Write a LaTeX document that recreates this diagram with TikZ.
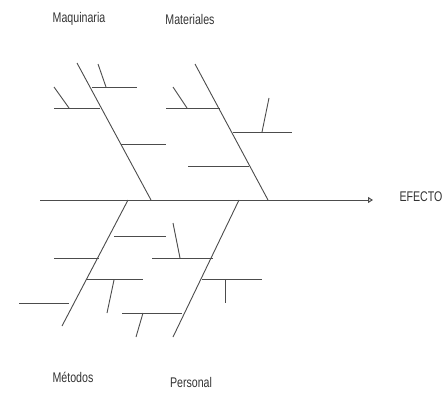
\documentclass[tikz,border=0pt]{standalone}
\usepackage{fontspec}
\setmainfont{Liberation Sans}
\newfontfamily\lblfont[FakeStretch=0.76]{Liberation Sans}
\usetikzlibrary{arrows.meta}
\tikzset{
  bone/.style={draw=black!70, line width=0.9pt},
  spine/.style={draw=black!70, line width=1pt, -{Triangle[open,length=5pt,width=6pt]}},
  lbl/.style={font=\lblfont\fontsize{14}{16}\selectfont, text=black!80, inner sep=0pt}
}
\begin{document}
\begin{tikzpicture}[x=1pt,y=-1pt]
\useasboundingbox (0,0) rectangle (446,393);
% labels
\node[lbl] (maq) at (79,19) {Maquinaria};
\node[lbl] (mat) at (190,19) {Materiales};
\node[lbl] (met) at (73,377) {Métodos};
\node[lbl] (per) at (191,382) {Personal};
\node[lbl] (efe) at (421,197) {EFECTO};
% spine
\coordinate (s0) at (40,200);
\coordinate (s1) at (373,200);
\draw[spine] (s0) -- (s1);
% main bones
\coordinate (ma0) at (77,63);   \coordinate (ma1) at (151,200);
\coordinate (mt0) at (195,64);  \coordinate (mt1) at (268,200);
\coordinate (me0) at (128,200); \coordinate (me1) at (62,326);
\coordinate (pe0) at (239,200); \coordinate (pe1) at (173,337);
\draw[bone] (ma0) -- (ma1);
\draw[bone] (mt0) -- (mt1);
\draw[bone] (me0) -- (me1);
\draw[bone] (pe0) -- (pe1);
% Maquinaria sub-branches
\coordinate (a1) at (92,87);  \coordinate (a2) at (137,87);
\coordinate (a3) at (98,64);  \coordinate (a4) at (106,87);
\coordinate (a5) at (54,108); \coordinate (a6) at (100,108);
\coordinate (a7) at (54,87);  \coordinate (a8) at (69,108);
\coordinate (a9) at (121,144); \coordinate (a10) at (166,144);
\draw[bone] (a1) -- (a2);
\draw[bone] (a3) -- (a4);
\draw[bone] (a5) -- (a6);
\draw[bone] (a7) -- (a8);
\draw[bone] (a9) -- (a10);
% Materiales sub-branches
\coordinate (b1) at (166,108); \coordinate (b2) at (220,108);
\coordinate (b3) at (173,87);  \coordinate (b4) at (187,108);
\coordinate (b5) at (233,132); \coordinate (b6) at (292,132);
\coordinate (b7) at (269,98);  \coordinate (b8) at (262,132);
\coordinate (b9) at (188,166); \coordinate (b10) at (249,166);
\draw[bone] (b1) -- (b2);
\draw[bone] (b3) -- (b4);
\draw[bone] (b5) -- (b6);
\draw[bone] (b7) -- (b8);
\draw[bone] (b9) -- (b10);
% Metodos sub-branches
\coordinate (c1) at (114,236); \coordinate (c2) at (166,236);
\coordinate (c3) at (54,258);  \coordinate (c4) at (99,258);
\coordinate (c5) at (86,279);  \coordinate (c6) at (143,279);
\coordinate (c7) at (114,280); \coordinate (c8) at (107,313);
\coordinate (c9) at (19,303);  \coordinate (c10) at (69,303);
\draw[bone] (c1) -- (c2);
\draw[bone] (c3) -- (c4);
\draw[bone] (c5) -- (c6);
\draw[bone] (c7) -- (c8);
\draw[bone] (c9) -- (c10);
% Personal sub-branches
\coordinate (d1) at (152,258); \coordinate (d2) at (213,258);
\coordinate (d3) at (173,223); \coordinate (d4) at (180,258);
\coordinate (d5) at (202,279); \coordinate (d6) at (262,279);
\coordinate (d7) at (225,279); \coordinate (d8) at (225,303);
\coordinate (d9) at (122,313); \coordinate (d10) at (182,313);
\coordinate (d11) at (143,313); \coordinate (d12) at (136,337);
\draw[bone] (d1) -- (d2);
\draw[bone] (d3) -- (d4);
\draw[bone] (d5) -- (d6);
\draw[bone] (d7) -- (d8);
\draw[bone] (d9) -- (d10);
\draw[bone] (d11) -- (d12);
\end{tikzpicture}
\end{document}
